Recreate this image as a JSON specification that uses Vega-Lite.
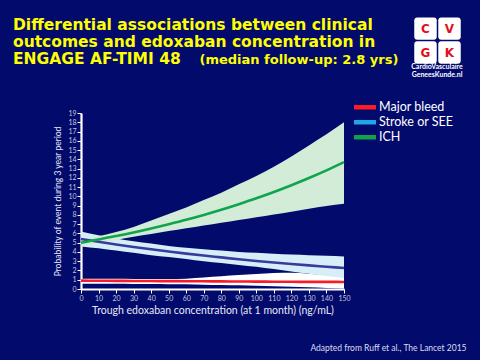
{
  "$schema": "https://vega.github.io/schema/vega-lite/v6.json",
  "width": 263,
  "height": 176,
  "autosize": {"type": "none"},
  "padding": {"left": 81, "top": 113, "right": 136, "bottom": 71},
  "background": "#020a6c",
  "title": {
    "text": ["Differential associations between clinical", "outcomes and edoxaban concentration in", "ENGAGE AF-TIMI 48"],
    "orient": "top",
    "anchor": "start",
    "frame": "group",
    "font": "DejaVu Sans",
    "fontSize": 15.5,
    "fontWeight": "bold",
    "color": "#ffff00",
    "lineHeight": 17,
    "baseline": "bottom",
    "offset": 0,
    "dx": -68,
    "dy": 65
  },
  "datasets": {
    "curves": [
      {"series": "Major bleed", "x": 0, "lo": 0.58, "mid": 0.90, "hi": 1.12},
      {"series": "Major bleed", "x": 10, "lo": 0.57, "mid": 0.89, "hi": 1.11},
      {"series": "Major bleed", "x": 20, "lo": 0.56, "mid": 0.88, "hi": 1.10},
      {"series": "Major bleed", "x": 30, "lo": 0.55, "mid": 0.87, "hi": 1.09},
      {"series": "Major bleed", "x": 40, "lo": 0.54, "mid": 0.86, "hi": 1.08},
      {"series": "Major bleed", "x": 50, "lo": 0.52, "mid": 0.85, "hi": 1.08},
      {"series": "Major bleed", "x": 60, "lo": 0.50, "mid": 0.84, "hi": 1.12},
      {"series": "Major bleed", "x": 70, "lo": 0.47, "mid": 0.83, "hi": 1.24},
      {"series": "Major bleed", "x": 80, "lo": 0.44, "mid": 0.82, "hi": 1.37},
      {"series": "Major bleed", "x": 90, "lo": 0.40, "mid": 0.81, "hi": 1.50},
      {"series": "Major bleed", "x": 100, "lo": 0.35, "mid": 0.80, "hi": 1.62},
      {"series": "Major bleed", "x": 110, "lo": 0.30, "mid": 0.79, "hi": 1.72},
      {"series": "Major bleed", "x": 120, "lo": 0.24, "mid": 0.78, "hi": 1.75},
      {"series": "Major bleed", "x": 130, "lo": 0.18, "mid": 0.77, "hi": 1.65},
      {"series": "Major bleed", "x": 140, "lo": 0.11, "mid": 0.77, "hi": 1.48},
      {"series": "Major bleed", "x": 150, "lo": 0.05, "mid": 0.76, "hi": 1.32},
      {"series": "Stroke or SEE", "x": 0, "lo": 4.60, "mid": 5.40, "hi": 6.20},
      {"series": "Stroke or SEE", "x": 10, "lo": 4.40, "mid": 5.10, "hi": 5.80},
      {"series": "Stroke or SEE", "x": 20, "lo": 4.15, "mid": 4.81, "hi": 5.45},
      {"series": "Stroke or SEE", "x": 30, "lo": 3.90, "mid": 4.54, "hi": 5.15},
      {"series": "Stroke or SEE", "x": 40, "lo": 3.65, "mid": 4.29, "hi": 4.90},
      {"series": "Stroke or SEE", "x": 50, "lo": 3.45, "mid": 4.05, "hi": 4.65},
      {"series": "Stroke or SEE", "x": 60, "lo": 3.25, "mid": 3.82, "hi": 4.45},
      {"series": "Stroke or SEE", "x": 70, "lo": 3.00, "mid": 3.61, "hi": 4.30},
      {"series": "Stroke or SEE", "x": 80, "lo": 2.80, "mid": 3.41, "hi": 4.15},
      {"series": "Stroke or SEE", "x": 90, "lo": 2.60, "mid": 3.21, "hi": 4.00},
      {"series": "Stroke or SEE", "x": 100, "lo": 2.40, "mid": 3.03, "hi": 3.90},
      {"series": "Stroke or SEE", "x": 110, "lo": 2.15, "mid": 2.86, "hi": 3.80},
      {"series": "Stroke or SEE", "x": 120, "lo": 1.90, "mid": 2.70, "hi": 3.72},
      {"series": "Stroke or SEE", "x": 130, "lo": 1.65, "mid": 2.55, "hi": 3.65},
      {"series": "Stroke or SEE", "x": 140, "lo": 1.40, "mid": 2.41, "hi": 3.58},
      {"series": "Stroke or SEE", "x": 150, "lo": 1.20, "mid": 2.27, "hi": 3.52},
      {"series": "ICH", "x": 0, "lo": 4.60, "mid": 5.00, "hi": 5.40},
      {"series": "ICH", "x": 10, "lo": 4.95, "mid": 5.34, "hi": 5.70},
      {"series": "ICH", "x": 20, "lo": 5.30, "mid": 5.72, "hi": 6.15},
      {"series": "ICH", "x": 30, "lo": 5.65, "mid": 6.11, "hi": 6.70},
      {"series": "ICH", "x": 40, "lo": 5.95, "mid": 6.54, "hi": 7.40},
      {"series": "ICH", "x": 50, "lo": 6.25, "mid": 7.00, "hi": 8.10},
      {"series": "ICH", "x": 60, "lo": 6.55, "mid": 7.48, "hi": 8.80},
      {"series": "ICH", "x": 70, "lo": 6.85, "mid": 8.00, "hi": 9.60},
      {"series": "ICH", "x": 80, "lo": 7.15, "mid": 8.56, "hi": 10.40},
      {"series": "ICH", "x": 90, "lo": 7.45, "mid": 9.16, "hi": 11.30},
      {"series": "ICH", "x": 100, "lo": 7.75, "mid": 9.79, "hi": 12.20},
      {"series": "ICH", "x": 110, "lo": 8.05, "mid": 10.47, "hi": 13.20},
      {"series": "ICH", "x": 120, "lo": 8.35, "mid": 11.20, "hi": 14.30},
      {"series": "ICH", "x": 130, "lo": 8.65, "mid": 11.98, "hi": 15.50},
      {"series": "ICH", "x": 140, "lo": 8.95, "mid": 12.81, "hi": 16.70},
      {"series": "ICH", "x": 150, "lo": 9.20, "mid": 13.70, "hi": 18.00}
    ],
    "logo": [
      {"letter": "C"}, {"letter": "V"}, {"letter": "G"}, {"letter": "K"}
    ]
  },
  "layer": [
    {
      "data": {"name": "curves"},
      "mark": {"type": "area", "interpolate": "monotone", "opacity": 1},
      "encoding": {
        "x": {
          "field": "x", "type": "quantitative",
          "scale": {"domain": [0, 150], "nice": false},
          "axis": {
            "orient": "bottom",
            "values": [0, 10, 20, 30, 40, 50, 60, 70, 80, 90, 100, 110, 120, 130, 140, 150],
            "title": "Trough edoxaban concentration (at 1 month) (ng/mL)",
            "grid": false,
            "domainColor": "#ffffff", "domainWidth": 2.2,
            "tickColor": "#ffffff", "tickSize": 4, "tickWidth": 1,
            "labelColor": "#c4c6dc", "labelFont": "Lato", "labelFontSize": 7, "labelPadding": 1,
            "labelFlush": false, "labelOverlap": false,
            "titleFont": "Lato", "titleFontSize": 10.5, "titleFontWeight": "normal", "titleColor": "#e6e8f6",
            "titleX": 131.5, "titleY": 21, "titleAlign": "center", "titleBaseline": "middle"
          }
        },
        "y": {
          "field": "lo", "type": "quantitative",
          "scale": {"domain": [0, 19], "nice": false},
          "axis": {
            "orient": "left",
            "values": [0, 1, 2, 3, 4, 5, 6, 7, 8, 9, 10, 11, 12, 13, 14, 15, 16, 17, 18, 19],
            "title": "Probability of event during 3 year period",
            "grid": false,
            "domainColor": "#ffffff", "domainWidth": 2.2,
            "tickColor": "#ffffff", "tickSize": 4, "tickWidth": 1,
            "labelColor": "#c4c6dc", "labelFont": "Lato", "labelFontSize": 7, "labelPadding": 1,
            "labelFlush": false, "labelOverlap": false,
            "titleFont": "Lato", "titleFontSize": 8.5, "titleFontWeight": "normal", "titleColor": "#e6e8f6",
            "titleX": -24, "titleY": 88, "titleAngle": -90, "titleAlign": "center", "titleBaseline": "middle"
          }
        },
        "y2": {"field": "hi"},
        "color": {
          "field": "series", "type": "nominal",
          "scale": {"domain": ["ICH", "Major bleed", "Stroke or SEE"], "range": ["#d3ecd8", "#ffffff", "#d6eef7"]},
          "legend": null
        }
      }
    },
    {
      "data": {"name": "curves"},
      "mark": {"type": "line", "interpolate": "monotone", "strokeWidth": 2.6},
      "encoding": {
        "x": {"field": "x", "type": "quantitative", "scale": {"domain": [0, 150], "nice": false}, "axis": null},
        "y": {"field": "mid", "type": "quantitative", "scale": {"domain": [0, 19], "nice": false}, "axis": null},
        "stroke": {
          "field": "series", "type": "nominal",
          "scale": {"domain": ["ICH", "Major bleed", "Stroke or SEE"], "range": ["#10a44c", "#f81c28", "#3a3a9e"]},
          "legend": null
        }
      }
    },
    {
      "data": {"name": "curves"},
      "mark": {"type": "point", "filled": true, "opacity": 0},
      "encoding": {
        "x": {
          "field": "x", "type": "quantitative", "scale": {"domain": [0, 150], "nice": false},
          "axis": {
            "orient": "bottom", "domain": false, "ticks": false, "labels": false, "grid": false,
            "title": "Adapted from Ruff et al., The Lancet 2015",
            "titleFont": "Lato", "titleFontSize": 8.5, "titleFontWeight": "normal", "titleColor": "#dcdeee",
            "titleX": 385, "titleY": 58, "titleAlign": "right", "titleBaseline": "middle"
          }
        },
        "y": {
          "field": "mid", "type": "quantitative", "scale": {"domain": [0, 19], "nice": false},
          "axis": {
            "orient": "right", "domain": false, "ticks": false, "labels": false, "grid": false,
            "title": "(median follow-up: 2.8 yrs)",
            "titleFont": "DejaVu Sans", "titleFontSize": 13, "titleFontWeight": "bold", "titleColor": "#ffff00",
            "titleAngle": 0, "titleX": -145, "titleY": -49.7, "titleAlign": "left", "titleBaseline": "alphabetic"
          }
        },
        "fill": {
          "field": "series", "type": "nominal",
          "scale": {"domain": ["Major bleed", "Stroke or SEE", "ICH"], "range": ["#ff1a26", "#1ea8e8", "#12a04c"]},
          "legend": {
            "orient": "none", "legendX": 273, "legendY": -12, "title": null, "padding": 0,
            "symbolType": "M-1,-0.2H1V0.2H-1Z", "symbolSize": 484, "symbolStrokeWidth": 0, "symbolOpacity": 1,
            "clipHeight": 12.5, "rowPadding": 2,
            "labelFont": "Lato", "labelFontSize": 12.5, "labelColor": "#ffffff", "labelOffset": 3
          }
        }
      }
    },
    {
      "data": {"name": "logo"},
      "mark": {"type": "point", "filled": true, "color": "#ffffff", "opacity": 0},
      "encoding": {
        "shape": {
          "field": "letter", "type": "nominal",
          "scale": {
            "domain": ["C", "G", "V", "K"],
            "range": [
              "M-0.75,-1H0.75A0.25,0.25 0 0 1 1,-0.75V0.75A0.25,0.25 0 0 1 0.75,1H-0.75A0.25,0.25 0 0 1 -1,0.75V-0.75A0.25,0.25 0 0 1 -0.75,-1Z",
              "M-0.75,-1H0.75A0.25,0.25 0 0 1 1,-0.75V0.75A0.25,0.25 0 0 1 0.75,1H-0.75A0.25,0.25 0 0 1 -1,0.75V-0.75A0.25,0.25 0 0 1 -0.75,-1Z",
              "M-0.75,-1H0.75A0.25,0.25 0 0 1 1,-0.75V0.75A0.25,0.25 0 0 1 0.75,1H-0.75A0.25,0.25 0 0 1 -1,0.75V-0.75A0.25,0.25 0 0 1 -0.75,-1Z",
              "M-0.75,-1H0.75A0.25,0.25 0 0 1 1,-0.75V0.75A0.25,0.25 0 0 1 0.75,1H-0.75A0.25,0.25 0 0 1 -1,0.75V-0.75A0.25,0.25 0 0 1 -0.75,-1Z"
            ]
          },
          "legend": {
            "orient": "none", "legendX": 330, "legendY": -96, "padding": 0,
            "columns": 2, "columnPadding": 1, "rowPadding": 1,
            "symbolSize": 506, "symbolStrokeWidth": 0, "symbolOpacity": 1, "symbolFillColor": "#ffffff",
            "labelAlign": "center", "labelBaseline": "middle", "labelOffset": -11.5,
            "labelFont": "DejaVu Sans", "labelFontWeight": "bold", "labelFontSize": 12, "labelColor": "#e3101c",
            "title": ["CardioVasculaire", "GeneesKunde.nl"],
            "titleOrient": "bottom", "titleAnchor": "middle", "titlePadding": -1,
            "titleFont": "Lato", "titleFontSize": 7, "titleFontWeight": "bold", "titleColor": "#ffffff", "titleLineHeight": 7.5
          }
        }
      }
    }
  ],
  "resolve": {"axis": {"x": "independent", "y": "independent"}},
  "config": {
    "view": {"stroke": null},
    "font": "Lato"
  }
}
